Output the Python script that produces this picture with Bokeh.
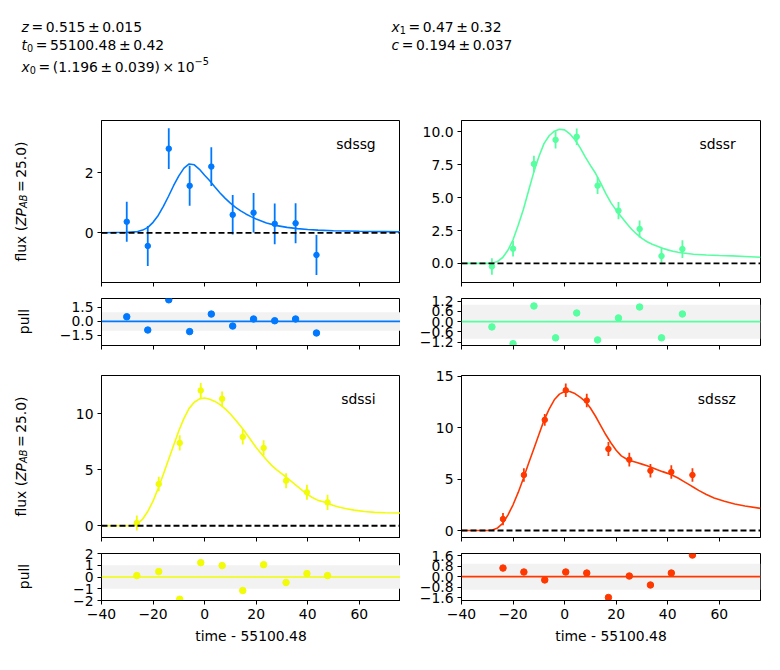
import math

from bokeh.core.properties import value
from bokeh.embed import file_html
from bokeh.layouts import column, row
from bokeh.models import BoxAnnotation, ColumnDataSource, FixedTicker, Range1d, Span
from bokeh.plotting import figure
from bokeh.resources import INLINE

FONT = "DejaVu Sans"
FS = 13.9  # base font size in px

# ---------------- fit results ----------------
fit_z, fit_z_err = 0.515, 0.015
fit_t0, fit_t0_err = 55100.48, 0.42
fit_x0, fit_x0_err, fit_x0_exp = 1.196, 0.039, -5
fit_x1, fit_x1_err = 0.47, 0.32
fit_c, fit_c_err = 0.194, 0.037
zp, zpsys = 25.0, "AB"

# ---------------- photometry (time - t0) ----------------
g_time = [-30.2, -22.05, -13.9, -5.8, 2.6, 10.9, 19.0, 27.2, 35.3, 43.4]
g_flux = [0.37, -0.44, 2.81, 1.57, 2.21, 0.60, 0.67, 0.30, 0.32, -0.74]
g_err = [0.67, 0.67, 0.68, 0.67, 0.65, 0.66, 0.66, 0.68, 0.67, 0.67]
g_pull = [0.50, -0.93, 2.33, -1.10, 0.79, -0.50, 0.26, 0.07, 0.26, -1.25]

r_time = [-28.2, -20.0, -11.9, -3.5, 4.7, 12.8, 20.9, 29.1, 37.6, 45.7]
r_flux = [-0.23, 1.12, 7.56, 9.39, 9.62, 5.91, 4.01, 2.62, 0.56, 1.09]
r_err = [0.63, 0.60, 0.63, 0.66, 0.63, 0.63, 0.66, 0.65, 0.63, 0.67]
r_pull = [-0.31, -1.29, 0.92, -0.95, 0.51, -1.07, 0.22, 0.86, -0.95, 0.45]

i_time = [-26.3, -17.8, -9.65, -1.5, 6.8, 14.8, 22.9, 31.6, 39.7, 47.7]
i_flux = [0.24, 3.73, 7.41, 12.1, 11.35, 7.95, 6.96, 4.03, 2.99, 2.09]
i_err = [0.67, 0.65, 0.68, 0.68, 0.67, 0.68, 0.68, 0.67, 0.67, 0.68]
i_pull = [0.12, 0.46, -1.89, 1.22, 0.97, -1.15, 1.05, -0.47, 0.29, 0.12]

z_time = [-23.9, -15.8, -7.7, 0.45, 8.6, 17.0, 25.1, 33.3, 41.4, 49.6]
z_flux = [1.11, 5.39, 10.75, 13.63, 12.63, 7.92, 6.88, 5.81, 5.68, 5.39]
z_err = [0.60, 0.66, 0.57, 0.65, 0.65, 0.68, 0.67, 0.65, 0.65, 0.65]
z_pull = [0.66, 0.36, -0.25, 0.36, 0.28, -1.60, 0.05, -0.64, 0.28, 1.66]

# ---------------- best-fit model curves ----------------
g_model_time = [-40, -30, -26, -24, -22, -20, -18, -16, -14, -12, -10, -8, -6, -4, -2, 0,
                2, 4, 6, 8, 10, 12, 14, 16, 18, 20, 24, 28, 32, 36, 40, 44, 50, 60, 70, 76]
g_model_flux = [0.0, 0.02, 0.04, 0.09, 0.18, 0.35, 0.58, 0.88, 1.22, 1.58, 1.90, 2.16, 2.30,
                2.27, 2.12, 1.92, 1.74, 1.53, 1.33, 1.15, 0.99, 0.85, 0.73, 0.63, 0.54, 0.46,
                0.33, 0.24, 0.18, 0.14, 0.11, 0.09, 0.07, 0.05, 0.04, 0.03]

r_model_time = [-40, -32, -30, -28, -26, -24, -22, -20, -18, -16, -14, -12, -10, -8, -6, -4,
                -2, 0, 2, 4, 6, 8, 10, 12, 14, 16, 18, 20, 22, 24, 26, 28, 30, 32, 34, 36, 38,
                40, 42, 44, 46, 50, 55, 60, 65, 70, 76]
r_model_flux = [0.0, 0.0, 0.0, 0.03, 0.15, 0.45, 1.0, 1.8, 2.9, 4.1, 5.5, 6.9, 8.1, 9.1, 9.7,
                10.05, 10.2, 10.15, 9.85, 9.4, 8.8, 8.1, 7.45, 6.85, 6.1, 5.3, 4.6, 4.05, 3.55,
                3.05, 2.6, 2.22, 1.9, 1.65, 1.45, 1.3, 1.15, 1.03, 0.93, 0.85, 0.79, 0.70, 0.64,
                0.60, 0.57, 0.53, 0.47]

i_model_time = [-40, -30, -28, -26, -24, -22, -20, -18, -16, -14, -12, -10, -8, -6, -4, -2, 0,
                2, 4, 6, 8, 10, 12, 14, 16, 18, 20, 22, 24, 26, 28, 30, 32, 34, 36, 38, 40, 42,
                44, 46, 48, 50, 52, 55, 58, 62, 66, 70, 76]
i_model_flux = [0.0, 0.0, 0.03, 0.2, 0.6, 1.3, 2.2, 3.35, 4.6, 5.9, 7.2, 8.5, 9.6, 10.5, 11.05,
                11.35, 11.42, 11.32, 11.12, 10.83, 10.45, 10.0, 9.45, 8.9, 8.3, 7.65, 7.0, 6.45,
                5.9, 5.4, 5.0, 4.65, 4.28, 3.9, 3.52, 3.15, 2.8, 2.5, 2.27, 2.15, 1.98, 1.82,
                1.68, 1.52, 1.40, 1.28, 1.20, 1.16, 1.14]

z_model_time = [-40, -30, -28, -26, -24, -22, -20, -18, -16, -14, -12, -10, -8, -6, -4, -2, 0,
                2, 4, 6, 8, 10, 12, 14, 16, 18, 20, 22, 24, 26, 28, 30, 32, 34, 36, 38, 40, 42,
                44, 46, 48, 50, 52, 55, 58, 62, 66, 70, 76]
z_model_flux = [0.0, 0.0, 0.05, 0.25, 0.7, 1.5, 2.5, 3.7, 5.05, 6.5, 7.9, 9.3, 10.7, 11.8, 12.7,
                13.25, 13.5, 13.5, 13.3, 12.95, 12.55, 11.9, 11.1, 10.2, 9.3, 8.5, 7.8, 7.25,
                6.95, 6.75, 6.6, 6.45, 6.3, 6.1, 5.9, 5.72, 5.55, 5.35, 5.1, 4.8, 4.5, 4.2, 3.9,
                3.5, 3.15, 2.85, 2.58, 2.38, 2.15]

# ---------------- axes setup ----------------
time_range = (-40, 76)
time_ticks = [-40, -20, 0, 20, 40, 60]
time_labels = ["\u221240", "\u221220", "0", "20", "40", "60"]

flux_ranges = {"sdssg": (-1.66, 3.75), "sdssr": (-1.45, 10.86),
               "sdssi": (-1.05, 13.44), "sdssz": (-0.68, 15.06)}
flux_ticks = {"sdssg": [0, 2], "sdssr": [0, 2.5, 5, 7.5, 10],
              "sdssi": [0, 5, 10], "sdssz": [0, 5, 10, 15]}
flux_labels = {"sdssg": ["0", "2"], "sdssr": ["0.0", "2.5", "5.0", "7.5", "10.0"],
               "sdssi": ["0", "5", "10"], "sdssz": ["0", "5", "10", "15"]}

pull_ranges = {"sdssg": (-2.6, 2.47), "sdssr": (-1.40, 1.36),
               "sdssi": (-2.0, 2.0), "sdssz": (-1.83, 1.78)}
pull_ticks = {"sdssg": [-1.5, 0, 1.5], "sdssr": [-1.2, -0.6, 0, 0.6, 1.2],
              "sdssi": [-2, -1, 0, 1, 2], "sdssz": [-1.6, -0.8, 0, 0.8, 1.6]}
pull_labels = {"sdssg": ["\u22121.5", "0.0", "1.5"],
               "sdssr": ["\u22121.2", "\u22120.6", "0.0", "0.6", "1.2"],
               "sdssi": ["\u22122", "\u22121", "0", "1", "2"],
               "sdssz": ["\u22121.6", "\u22120.8", "0.0", "0.8", "1.6"]}

# colours from the jet colormap at each band's effective wavelength
band_colors = {"sdssg": "#0079ff", "sdssr": "#56ffa0", "sdssi": "#f1fc06", "sdssz": "#ff3800"}

band_data = {
    "sdssg": (g_time, g_flux, g_err, g_pull, g_model_time, g_model_flux),
    "sdssr": (r_time, r_flux, r_err, r_pull, r_model_time, r_model_flux),
    "sdssi": (i_time, i_flux, i_err, i_pull, i_model_time, i_model_flux),
    "sdssz": (z_time, z_flux, z_err, z_pull, z_model_time, z_model_flux),
}

# DejaVu Sans advance widths (units of 1/2048 em), used to lay out mixed-style labels
ADV = {" ": 651, "(": 799, ")": 799, ".": 651, "=": 1716, "\u00b1": 1716, "\u00d7": 1716,
       "\u2212": 1716, "-": 739, "a": 1255, "b": 1300, "c": 1126, "f": 721, "l": 569,
       "u": 1298, "x": 1212, "z": 1075, "t": 803, "A": 1401, "B": 1405, "P": 1235, "Z": 1405}
for d in "0123456789":
    ADV[d] = 1303


def advance(text, size):
    return sum(ADV.get(ch, 1300) for ch in text) / 2048.0 * size


def font_px(size):
    return f"{round(size, 1)}px"


def draw_tokens(fig, x, y, tokens, angle=0.0):
    """Draw a run of text pieces; floats are extra gaps in px."""
    pos = 0.0
    for tok in tokens:
        if isinstance(tok, (int, float)):
            pos += tok
            continue
        text, style, scale, shift = tok
        size = round(FS * scale, 1)
        if angle == 0.0:
            px, py = x + pos, y + shift
        else:
            px, py = x + shift, y - pos
        kw = dict(text_font=value(FONT), text_font_size=value(font_px(size)),
                  text_align=value("left"), text_baseline=value("alphabetic"),
                  text_color="black")
        if style == "italic":
            kw["text_font_style"] = value("italic")
        if angle != 0.0:
            kw["angle"] = angle
        fig.text(x=[px], y=[py], text=[text], **kw)
        pos += advance(text, size)
    return pos


def blank_figure(width, height, xr, yr):
    f = figure(width=width, height=height, x_range=xr, y_range=yr,
               toolbar_location=None, output_backend="svg",
               min_border=0, outline_line_color=None)
    f.axis.visible = False
    f.grid.visible = False
    return f


def style_axes(p, xlabels_shown):
    for ax in (p.xaxis[0], p.yaxis[0]):
        ax.axis_line_color = "black"
        ax.major_tick_line_color = "black"
        ax.major_tick_out = 4
        ax.major_tick_in = 0
        ax.minor_tick_line_color = None
        ax.major_label_text_font = FONT
        ax.major_label_text_font_size = font_px(FS)
        ax.major_label_text_color = "black"
        ax.major_label_standoff = 4
    p.xaxis.ticker = FixedTicker(ticks=time_ticks)
    if xlabels_shown:
        p.xaxis.major_label_overrides = {float(t): s for t, s in zip(time_ticks, time_labels)}
    else:
        # shared time axis: tick marks only, labels live on the bottom pull panel
        p.xaxis.major_label_text_color = None
        p.xaxis.major_label_text_font_size = "0px"
        p.xaxis.major_label_standoff = 0
    p.grid.visible = False
    p.outline_line_color = "black"
    p.outline_line_width = 1


def main_panel(band, width, height, border_top, border_right):
    t, f, e, _, mt, mf = band_data[band]
    color = band_colors[band]
    yr = flux_ranges[band]
    p = figure(width=width, height=height, x_range=Range1d(*time_range), y_range=Range1d(*yr),
               toolbar_location=None, output_backend="svg",
               min_border_left=61, min_border_right=border_right,
               min_border_top=border_top, min_border_bottom=8)
    style_axes(p, False)
    p.yaxis.ticker = FixedTicker(ticks=flux_ticks[band])
    p.yaxis.major_label_overrides = {float(v): s for v, s in zip(flux_ticks[band], flux_labels[band])}

    p.line(mt, mf, line_color=color, line_width=1.6)
    src = ColumnDataSource(dict(t=t, f=f, lo=[a - b for a, b in zip(f, e)],
                                hi=[a + b for a, b in zip(f, e)]))
    p.segment(x0="t", y0="lo", x1="t", y1="hi", source=src, line_color=color, line_width=1.8)
    p.scatter("t", "f", source=src, size=5.5, fill_color=color, line_color=color)
    p.add_layout(Span(location=0, dimension="width", line_color="black",
                      line_dash="6 3", line_width=1.8))

    x_lab = time_range[0] + 0.917 * (time_range[1] - time_range[0])
    y_lab = yr[1] - 0.145 * (yr[1] - yr[0])
    p.text(x=[x_lab], y=[y_lab], text=[band], text_font=value(FONT),
           text_font_size=value(font_px(FS)), text_align=value("right"),
           text_baseline=value("alphabetic"), text_color="black")
    return p


def pull_panel(band, width, height, border_right, border_bottom, last_row):
    t, _, _, pl, _, _ = band_data[band]
    color = band_colors[band]
    p = figure(width=width, height=height, x_range=Range1d(*time_range),
               y_range=Range1d(*pull_ranges[band]),
               toolbar_location=None, output_backend="svg",
               min_border_left=61, min_border_right=border_right,
               min_border_top=8, min_border_bottom=border_bottom)
    style_axes(p, last_row)
    p.yaxis.ticker = FixedTicker(ticks=pull_ticks[band])
    p.yaxis.major_label_overrides = {float(v): s for v, s in zip(pull_ticks[band], pull_labels[band])}
    p.add_layout(BoxAnnotation(bottom=-1, top=1, fill_color="#f2f2f2", fill_alpha=1.0,
                               line_color=None, level="underlay"))
    p.add_layout(Span(location=0, dimension="width", line_color=color, line_width=1.6))
    p.scatter(t, pl, size=6.5, fill_color=color, line_color=color)
    if last_row:
        p.xaxis.axis_label = f"time - {fit_t0:.2f}"
        p.xaxis.axis_label_text_font = FONT
        p.xaxis.axis_label_text_font_size = font_px(FS)
        p.xaxis.axis_label_text_font_style = "normal"
        p.xaxis.axis_label_text_color = "black"
        p.xaxis.axis_label_standoff = 6
    return p


# ---------------- header with fit parameters ----------------
header = blank_figure(780, 100, Range1d(0, 780), Range1d(100, 0))
gap = 2.6
up, it = "normal", "italic"
draw_tokens(header, 21, 26, [("z", it, 1, 0), gap, ("=", up, 1, 0), gap,
                             (f"{fit_z:.3f}", up, 1, 0), gap, ("\u00b1", up, 1, 0), gap,
                             (f"{fit_z_err:.3f}", up, 1, 0)])
draw_tokens(header, 21, 44.5, [("t", it, 1, 0), ("0", up, 0.7, 3), gap, ("=", up, 1, 0), gap,
                               (f"{fit_t0:.2f}", up, 1, 0), gap, ("\u00b1", up, 1, 0), gap,
                               (f"{fit_t0_err:.2f}", up, 1, 0)])
draw_tokens(header, 21, 66, [("x", it, 1, 0), ("0", up, 0.7, 3), gap, ("=", up, 1, 0), gap,
                             ("(" + f"{fit_x0:.3f}", up, 1, 0), gap, ("\u00b1", up, 1, 0), gap,
                             (f"{fit_x0_err:.3f}" + ")", up, 1, 0), gap, ("\u00d7", up, 1, 0), gap,
                             ("10", up, 1, 0),
                             ("\u2212" + str(abs(fit_x0_exp)), up, 0.7, -5.5)])
draw_tokens(header, 391, 26, [("x", it, 1, 0), ("1", up, 0.7, 3), gap, ("=", up, 1, 0), gap,
                              (f"{fit_x1:.2f}", up, 1, 0), gap, ("\u00b1", up, 1, 0), gap,
                              (f"{fit_x1_err:.2f}", up, 1, 0)])
draw_tokens(header, 391, 44.5, [("c", it, 1, 0), gap, ("=", up, 1, 0), gap,
                                (f"{fit_c:.3f}", up, 1, 0), gap, ("\u00b1", up, 1, 0), gap,
                                (f"{fit_c_err:.3f}", up, 1, 0)])

# ---------------- strip holding the rotated y-axis labels ----------------
strip = blank_figure(40, 570, Range1d(0, 40), Range1d(570, 0))
flux_tokens = [("flux (", up, 1, 0), ("ZP", it, 1, 0), (zpsys, it, 0.7, 3), gap,
               ("=", up, 1, 0), gap, (f"{zp:.1f}", up, 1, 0), (")", up, 1, 0)]
flux_len = (advance("flux (", FS) + advance("ZP", FS) + advance(zpsys, round(0.7 * FS, 1))
            + 2 * gap + advance("=", FS) + advance(f"{zp:.1f})", FS))
for center in (101, 356):
    draw_tokens(strip, 20, center + flux_len / 2, flux_tokens, angle=math.pi / 2)
for center in (221, 476):
    strip.text(x=[23], y=[center], text=["pull"], angle=math.pi / 2,
               text_font=value(FONT), text_font_size=value(font_px(FS)),
               text_align=value("center"), text_baseline=value("alphabetic"),
               text_color="black")

# ---------------- panel grid ----------------
left_col = column(
    main_panel("sdssg", 360, 190, 20, 0),
    pull_panel("sdssg", 360, 70, 0, 15, False),
    main_panel("sdssi", 360, 185, 15, 0),
    pull_panel("sdssi", 360, 125, 0, 70, True),
    spacing=0,
)
right_col = column(
    main_panel("sdssr", 380, 190, 20, 20),
    pull_panel("sdssr", 380, 70, 20, 15, False),
    main_panel("sdssz", 380, 185, 15, 20),
    pull_panel("sdssz", 380, 125, 20, 70, True),
    spacing=0,
)

layout = column(header, row(strip, left_col, right_col, spacing=0), spacing=0)

with open("out.html", "w") as fh:
    fh.write(file_html(layout, INLINE, title="SALT2 light-curve fit"))
